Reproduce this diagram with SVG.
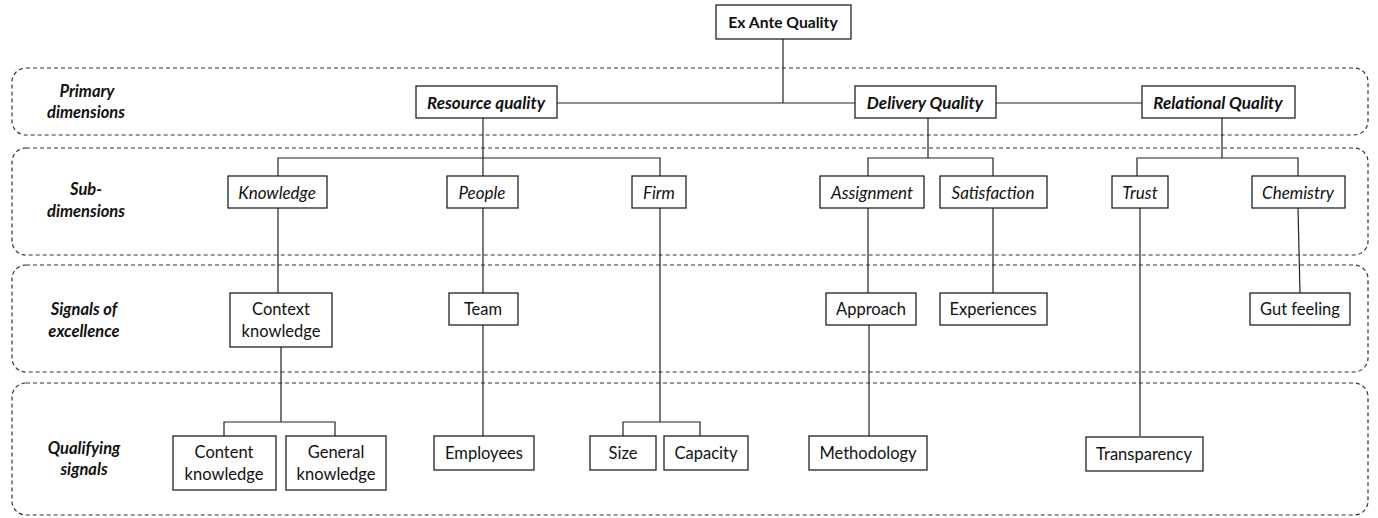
<svg xmlns="http://www.w3.org/2000/svg" width="1378" height="518" viewBox="0 0 1378 518">
<style>
.band{fill:none;stroke:#333;stroke-width:1.2;stroke-dasharray:4 3}
.box{fill:#fff;stroke:#222;stroke-width:1.3}
.ln{fill:none;stroke:#222;stroke-width:1.2}
text{font-family:Lato,"Open Sans","Liberation Sans",sans-serif;font-size:16.5px;fill:#111;text-anchor:middle;dominant-baseline:central}
.lab{font-weight:bold;font-style:italic;font-size:16.5px}
.pri{font-weight:bold;font-style:italic;font-size:17px}
.sub{font-style:italic;font-size:17px}
.top{font-weight:bold;font-size:15.7px}
</style>
<rect width="1378" height="518" fill="#fff"/>
<g id="bands">
<rect class="band" x="12" y="68" width="1356" height="67" rx="14"/>
<rect class="band" x="12" y="148" width="1356" height="107" rx="14"/>
<rect class="band" x="12" y="265" width="1356" height="107" rx="14"/>
<rect class="band" x="12" y="383" width="1356" height="132" rx="14"/>
</g>
<g id="labels">
<text class="lab" x="87" y="91">Primary</text><text class="lab" x="86" y="112">dimensions</text>
<text class="lab" x="86" y="189">Sub-</text><text class="lab" x="86" y="211">dimensions</text>
<text class="lab" x="84" y="309">Signals  of</text><text class="lab" x="84" y="331">excellence</text>
<text class="lab" x="84" y="448">Qualifying</text><text class="lab" x="84" y="469">signals</text>
</g>
<g id="connectors">
<path class="ln" d="M783 39V103M557 103H855M996 103H1142"/>
<path class="ln" d="M483 117V176M278 176V158H660V176"/>
<path class="ln" d="M928 117V158M868 176V158H993V176"/>
<path class="ln" d="M1222 117V158M1137 176V158H1298V176"/>
<path class="ln" d="M278 208V293M483 208V293M660 208V422M868 208V293M993 208V293M1140 208V436M1298 208L1300 293"/>
<path class="ln" d="M281 347V422M224 436V422H335V436M483 325V436M623 436V422H700V436M869 325V436"/>
</g>
<g id="n-exante"><rect class="box" x="716" y="5" width="135" height="34"/><text class="top" x="783" y="22">Ex Ante Quality</text></g>
<g id="n-resource"><rect class="box" x="416" y="86" width="141" height="32"/><text class="pri" x="486" y="102">Resource quality</text></g>
<g id="n-delivery"><rect class="box" x="855" y="86" width="141" height="32"/><text class="pri" x="925" y="102">Delivery Quality</text></g>
<g id="n-relational"><rect class="box" x="1142" y="86" width="153" height="32"/><text class="pri" x="1218" y="102">Relational Quality</text></g>
<g id="n-knowledge"><rect class="box" x="228" y="176" width="99" height="32"/><text class="sub" x="277" y="192">Knowledge</text></g>
<g id="n-people"><rect class="box" x="447" y="176" width="71" height="32"/><text class="sub" x="482" y="192">People</text></g>
<g id="n-firm"><rect class="box" x="632" y="176" width="54" height="32"/><text class="sub" x="659" y="192">Firm</text></g>
<g id="n-assignment"><rect class="box" x="820" y="176" width="104" height="32"/><text class="sub" x="872" y="192">Assignment</text></g>
<g id="n-satisfaction"><rect class="box" x="940" y="176" width="107" height="32"/><text class="sub" x="993" y="192">Satisfaction</text></g>
<g id="n-trust"><rect class="box" x="1112" y="176" width="56" height="32"/><text class="sub" x="1140" y="192">Trust</text></g>
<g id="n-chemistry"><rect class="box" x="1252" y="176" width="93" height="32"/><text class="sub" x="1298" y="192">Chemistry</text></g>
<g id="n-context"><rect class="box" x="230" y="293" width="102" height="54"/><text x="281" y="309">Context</text><text x="281" y="331">knowledge</text></g>
<g id="n-team"><rect class="box" x="449" y="293" width="69" height="32"/><text x="483" y="309">Team</text></g>
<g id="n-approach"><rect class="box" x="826" y="293" width="90" height="32"/><text x="871" y="309">Approach</text></g>
<g id="n-experiences"><rect class="box" x="940" y="293" width="107" height="32"/><text x="993" y="309">Experiences</text></g>
<g id="n-gut"><rect class="box" x="1250" y="293" width="100" height="32"/><text x="1300" y="309">Gut feeling</text></g>
<g id="n-content"><rect class="box" x="173" y="436" width="103" height="54"/><text x="224" y="452">Content</text><text x="224" y="474">knowledge</text></g>
<g id="n-general"><rect class="box" x="286" y="436" width="100" height="54"/><text x="336" y="452">General</text><text x="336" y="474">knowledge</text></g>
<g id="n-employees"><rect class="box" x="434" y="436" width="100" height="34"/><text x="484" y="453">Employees</text></g>
<g id="n-size"><rect class="box" x="590" y="436" width="66" height="34"/><text x="623" y="453">Size</text></g>
<g id="n-capacity"><rect class="box" x="664" y="436" width="84" height="34"/><text x="706" y="453">Capacity</text></g>
<g id="n-methodology"><rect class="box" x="809" y="436" width="118" height="34"/><text x="868" y="453">Methodology</text></g>
<g id="n-transparency"><rect class="box" x="1086" y="437" width="117" height="34"/><text x="1144" y="454">Transparency</text></g>
</svg>
